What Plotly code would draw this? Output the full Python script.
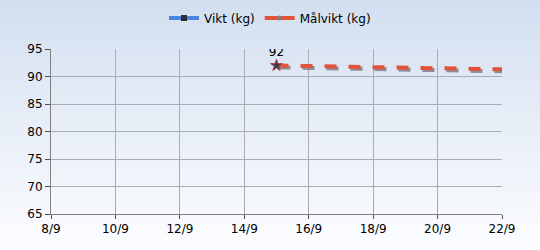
import plotly.graph_objects as go
import pandas as pd

# Data
vikt_dates = ["2023-09-15"]
vikt_values = [92]
malvikt_dates = ["2023-09-15", "2023-09-16", "2023-09-17", "2023-09-18",
                 "2023-09-19", "2023-09-20", "2023-09-21", "2023-09-22"]
malvikt_values = [92.0, 91.9, 91.8, 91.7, 91.6, 91.5, 91.4, 91.3]
y_ticks = [65, 70, 75, 80, 85, 90, 95]

W, H = 540, 250
ml, mr, mt, mb = 51, 38, 49, 36
ph = H - mt - mb

fig = go.Figure()

# shadow for target line
sh_x = [pd.Timestamp(d) + pd.Timedelta(hours=1.5) for d in malvikt_dates]
sh_y = [v - 0.35 for v in malvikt_values]
fig.add_trace(go.Scatter(x=sh_x, y=sh_y, mode="lines", showlegend=False, hoverinfo="skip",
                         line=dict(color="rgba(110,110,120,0.75)", width=4, dash="dash")))
fig.add_trace(go.Scatter(x=malvikt_dates, y=malvikt_values, mode="lines", showlegend=False,
                         name="Målvikt (kg)", line=dict(color="#e0553a", width=4, dash="dash")))
fig.add_trace(go.Scatter(x=vikt_dates, y=vikt_values, mode="markers+text", showlegend=False,
                         name="Vikt (kg)",
                         text=[str(v) for v in vikt_values], textposition="top center",
                         textfont=dict(size=12, color="#000000", family="DejaVu Sans"),
                         marker=dict(symbol="star", size=9, color="#3a3a4a",
                                     line=dict(color="#c04040", width=1))))

# legend entries
fig.add_trace(go.Scatter(x=[None], y=[None], mode="lines+markers", name="Vikt (kg)",
                         line=dict(color="#4a86e0", width=4),
                         marker=dict(symbol="square", size=6, color="#2a2a3a")))
fig.add_trace(go.Scatter(x=[None], y=[None], mode="lines+markers", name="Målvikt (kg)",
                         line=dict(color="#e0553a", width=4),
                         marker=dict(symbol="circle", size=5, color="#8a7a80")))

# gradient background
n = 60
y0p = -mb / ph
y1p = 1 + mt / ph
shapes = []
top = (211, 223, 240)
bot = (252, 253, 255)
for i in range(n):
    t = i / (n - 1)
    c = tuple(int(round(bot[k] + (top[k] - bot[k]) * t)) for k in range(3))
    ya = y0p + (y1p - y0p) * i / n
    yb = y0p + (y1p - y0p) * (i + 1) / n + 0.01
    shapes.append(dict(type="rect", xref="paper", yref="paper", x0=-1, x1=2, y0=ya, y1=yb,
                       fillcolor="rgb(%d,%d,%d)" % c, line=dict(width=0), layer="below"))

fig.update_layout(
    width=W, height=H,
    margin=dict(l=ml, r=mr, t=mt, b=mb, autoexpand=False),
    paper_bgcolor="white", plot_bgcolor="rgba(0,0,0,0)",
    shapes=shapes,
    font=dict(family="DejaVu Sans", size=12, color="#000000"),
    legend=dict(orientation="h", x=0.5, xref="container", xanchor="center",
                y=1 - 18 / H, yref="container", yanchor="middle",
                font=dict(size=12, color="#000000"), bgcolor="rgba(0,0,0,0)",
                itemwidth=30),
    showlegend=True,
)
fig.update_xaxes(type="date", range=["2023-09-08", "2023-09-22"], dtick=2 * 86400000,
                 tick0="2023-09-08", tickformat="%-d/%-m", showgrid=True, gridcolor="#a9acb2",
                 gridwidth=1, ticks="outside", ticklen=4, tickcolor="#505050",
                 showline=True, linecolor="#808080", zeroline=False)
fig.update_yaxes(range=[65, 95], tickvals=y_ticks, showgrid=True, gridcolor="#a9acb2",
                 ticks="outside", ticklen=5, tickcolor="#505050",
                 showline=True, linecolor="#808080", zeroline=False)

fig.write_html("out.html", config={"displayModeBar": False},
               post_script="document.body.style.margin='0';document.body.style.overflow='hidden';")
